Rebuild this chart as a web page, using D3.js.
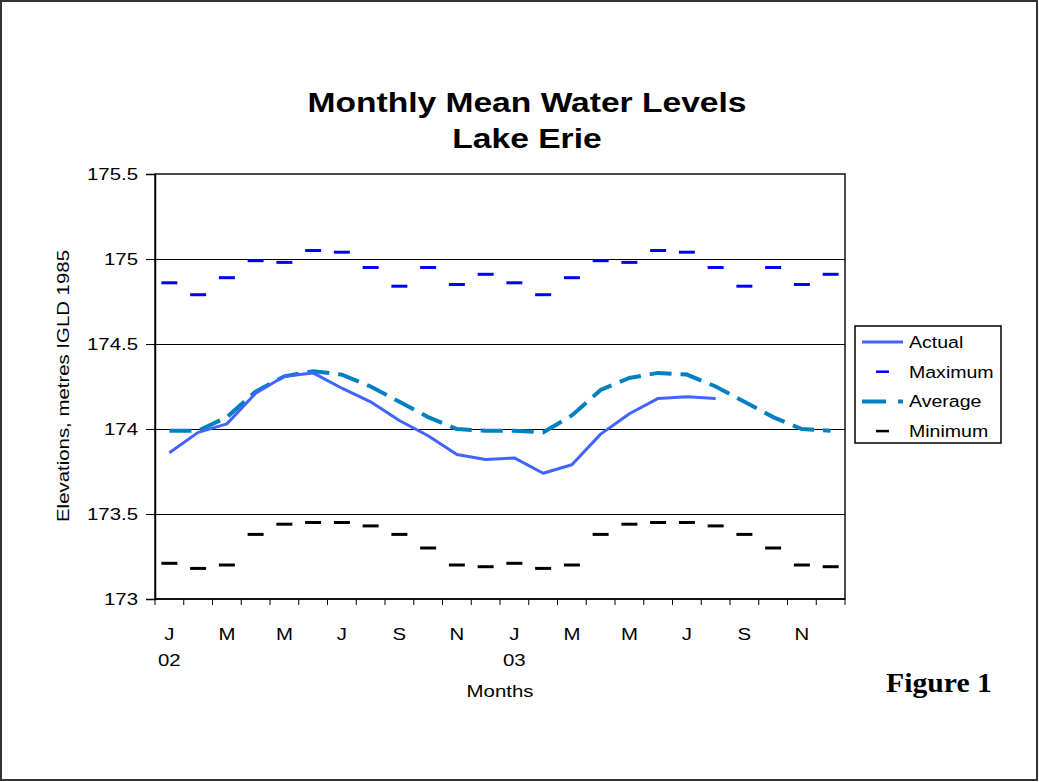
<!DOCTYPE html>
<html>
<head>
<meta charset="utf-8">
<script src="https://cdn.jsdelivr.net/npm/d3@7"></script>
<style>
  html, body { margin: 0; padding: 0; background: #fff; }
  svg { display: block; }
</style>
</head>
<body>
<svg id="chart" width="1039" height="782"></svg>
<script>
// Monthly mean levels, Jan 2002 – Dec 2003 (metres, IGLD 1985)
const months = ["Jan02","Feb02","Mar02","Apr02","May02","Jun02","Jul02","Aug02","Sep02","Oct02","Nov02","Dec02",
                "Jan03","Feb03","Mar03","Apr03","May03","Jun03","Jul03","Aug03","Sep03","Oct03","Nov03","Dec03"];
const monthTickLabels = ["J","","M","","M","","J","","S","","N","","J","","M","","M","","J","","S","","N",""];
const yearTickLabels  = ["02","","","","","","","","","","","","03","","","","","","","","","","",""];

const actual  = [173.86,173.98,174.03,174.21,174.31,174.33,174.24,174.16,174.05,173.96,173.85,173.82,
                 173.83,173.74,173.79,173.97,174.09,174.18,174.19,174.18,null,null,null,null];
const maximum = [174.86,174.79,174.89,174.99,174.98,175.05,175.04,174.95,174.84,174.95,174.85,174.91,
                 174.86,174.79,174.89,174.99,174.98,175.05,175.04,174.95,174.84,174.95,174.85,174.91];
const average = [173.99,173.99,174.07,174.22,174.31,174.34,174.32,174.25,174.16,174.07,174.00,173.99,
                 173.99,173.98,174.08,174.23,174.30,174.33,174.32,174.25,174.16,174.07,174.00,173.99];
const minimum = [173.21,173.18,173.20,173.38,173.44,173.45,173.45,173.43,173.38,173.30,173.20,173.19,
                 173.21,173.18,173.20,173.38,173.44,173.45,173.45,173.43,173.38,173.30,173.20,173.19];
const yTicks = [173, 173.5, 174, 174.5, 175, 175.5];

const SANS = "Arial, 'Liberation Sans', sans-serif";
const SERIF = "'Times New Roman', 'Liberation Serif', serif";
const STRETCH = 1.2; // chart text is drawn horizontally widened

const svg = d3.select("#chart");
const plot = { left: 155, right: 845, top: 174, bottom: 599 };

// Text drawn with a horizontal stretch around its anchor point
function label(parent, x, y, str, opts = {}) {
  const g = parent.append("g")
    .attr("transform", `translate(${x},${y}) rotate(${opts.rotate || 0}) scale(${opts.sx || STRETCH},1)`);
  return g.append("text")
    .attr("x", 0).attr("y", 0)
    .attr("text-anchor", opts.anchor || "middle")
    .style("font-family", opts.family || SANS)
    .style("font-size", (opts.size || 17) + "px")
    .style("font-weight", opts.weight || "normal")
    .attr("fill", "#000")
    .text(str);
}

// Page frame
svg.append("rect").attr("x", 1).attr("y", 1).attr("width", 1036).attr("height", 779)
  .attr("fill", "#fff").attr("stroke", "#333").attr("stroke-width", 2);

const x = d3.scaleBand().domain(months).range([plot.left, plot.right]).paddingInner(0).paddingOuter(0);
const y = d3.scaleLinear().domain([173, 175.5]).range([plot.bottom, plot.top]);
const cx = d => x(d) + x.bandwidth() / 2;

// Gridlines
svg.append("g").selectAll("line").data(yTicks.filter(v => v > 173 && v < 175.5)).join("line")
  .attr("x1", plot.left).attr("x2", plot.right)
  .attr("y1", d => y(d)).attr("y2", d => y(d))
  .attr("stroke", "#000").attr("stroke-width", 1).attr("shape-rendering", "crispEdges");

// Plot area border
svg.append("rect").attr("x", plot.left).attr("y", plot.top)
  .attr("width", plot.right - plot.left).attr("height", plot.bottom - plot.top)
  .attr("fill", "none").attr("stroke", "#111").attr("stroke-width", 1.5);

// Y axis
const yAxis = svg.append("g").attr("transform", `translate(${plot.left},0)`)
  .call(d3.axisLeft(y).tickValues(yTicks).tickSize(9).tickFormat(() => ""));
yAxis.select(".domain").attr("stroke", "#000").attr("stroke-width", 1.5);
yAxis.selectAll(".tick line").attr("stroke", "#000").attr("shape-rendering", "crispEdges");
yTicks.forEach(v => {
  label(svg, 138, y(v) + 6, d3.format("")(v), { anchor: "end", size: 17 });
});

// X axis: ticks at category boundaries
const xAxisG = svg.append("g").attr("transform", `translate(0,${plot.bottom})`);
xAxisG.append("line").attr("x1", plot.left).attr("x2", plot.right).attr("y1", 0).attr("y2", 0)
  .attr("stroke", "#000").attr("stroke-width", 1.5);
const boundaries = months.map(m => x(m)).concat([x(months[months.length - 1]) + x.bandwidth()]);
xAxisG.selectAll("line.tk").data(boundaries).join("line").attr("class", "tk")
  .attr("x1", d => d).attr("x2", d => d).attr("y1", 0).attr("y2", 6)
  .attr("stroke", "#000").attr("stroke-width", 1);
months.forEach((m, i) => {
  if (monthTickLabels[i]) label(xAxisG, cx(m), 41, monthTickLabels[i], { size: 17 });
  if (yearTickLabels[i]) label(xAxisG, cx(m), 67, yearTickLabels[i], { size: 17 });
});

// Maximum / Minimum markers (short horizontal dashes)
const markW = 16;
svg.append("g").selectAll("line").data(months).join("line")
  .attr("x1", d => cx(d) - markW / 2).attr("x2", d => cx(d) + markW / 2)
  .attr("y1", (d, i) => y(maximum[i])).attr("y2", (d, i) => y(maximum[i]))
  .attr("stroke", "#0000FF").attr("stroke-width", 3);
svg.append("g").selectAll("line").data(months).join("line")
  .attr("x1", d => cx(d) - markW / 2).attr("x2", d => cx(d) + markW / 2)
  .attr("y1", (d, i) => y(minimum[i])).attr("y2", (d, i) => y(minimum[i]))
  .attr("stroke", "#000").attr("stroke-width", 3);

// Average (long dash)
const line = d3.line().defined(d => d[1] != null).x(d => cx(d[0])).y(d => y(d[1]));
svg.append("path").datum(months.map((m, i) => [m, average[i]]))
  .attr("d", line).attr("fill", "none").attr("stroke", "#0080C0")
  .attr("stroke-width", 4).attr("stroke-dasharray", "22,9");

// Actual
svg.append("path").datum(months.map((m, i) => [m, actual[i]]))
  .attr("d", line).attr("fill", "none").attr("stroke", "#4064FF")
  .attr("stroke-width", 3).attr("stroke-linejoin", "round");

// Titles
label(svg, 527, 112, "Monthly Mean Water Levels", { size: 28, weight: "bold" });
label(svg, 527, 148, "Lake Erie", { size: 28, weight: "bold" });

label(svg, 69, 386, "Elevations, metres IGLD 1985", { size: 17, rotate: -90 });
label(svg, 500, 697, "Months", { size: 17 });

label(svg, 939, 692, "Figure 1", { size: 27, weight: "bold", family: SERIF, sx: 1.1 });

// Legend
const legend = svg.append("g");
legend.append("rect").attr("x", 855).attr("y", 326).attr("width", 146).attr("height", 117)
  .attr("fill", "#fff").attr("stroke", "#000").attr("stroke-width", 1.5);
const legendItems = [
  { name: "Actual", kind: "actual" },
  { name: "Maximum", kind: "max" },
  { name: "Average", kind: "avg" },
  { name: "Minimum", kind: "min" }
];
legendItems.forEach((it, i) => {
  const ly = 342 + i * 29.7;
  if (it.kind === "actual") {
    legend.append("line").attr("x1", 862).attr("x2", 903).attr("y1", ly).attr("y2", ly)
      .attr("stroke", "#4064FF").attr("stroke-width", 3);
  } else if (it.kind === "avg") {
    legend.append("line").attr("x1", 862).attr("x2", 903).attr("y1", ly).attr("y2", ly)
      .attr("stroke", "#0080C0").attr("stroke-width", 4).attr("stroke-dasharray", "24,12");
  } else {
    legend.append("line").attr("x1", 876).attr("x2", 889).attr("y1", ly).attr("y2", ly)
      .attr("stroke", it.kind === "max" ? "#0000FF" : "#000").attr("stroke-width", 2.5);
  }
  label(legend, 909, ly + 6, it.name, { anchor: "start", size: 17, sx: 1.15 });
});
</script>
</body>
</html>
